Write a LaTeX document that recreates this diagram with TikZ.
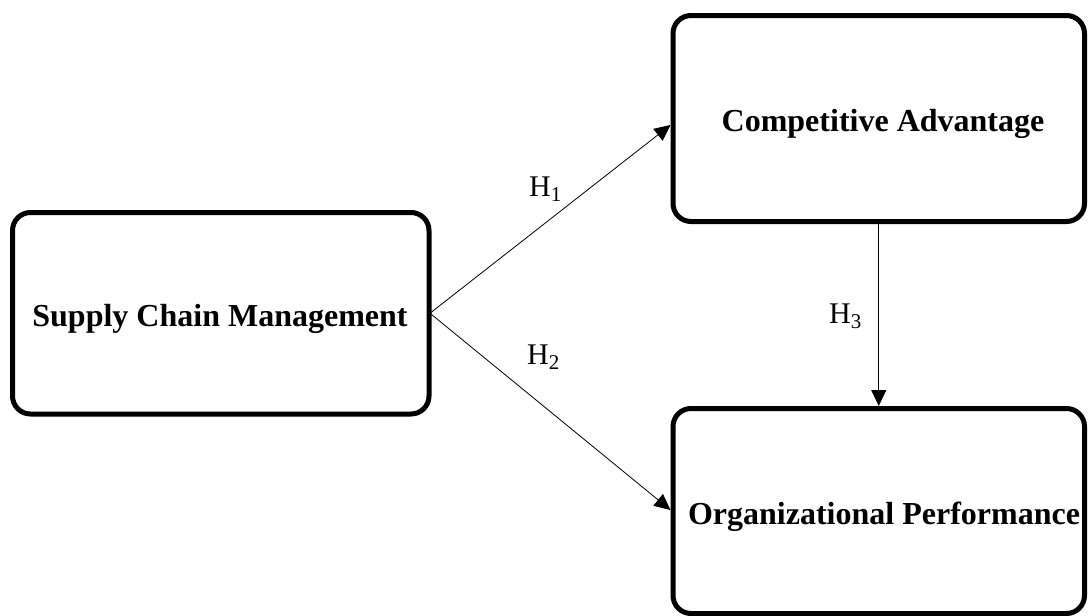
\documentclass[tikz,border=0pt]{standalone}
\usepackage{fontspec}
\setmainfont{Liberation Serif}
\usetikzlibrary{arrows.meta}

\tikzset{
  varbox/.style={draw=black, line width=5pt, rounded corners=18pt, fill=white},
  boxtext/.style={font=\fontsize{32}{38}\selectfont\bfseries, inner sep=0pt, anchor=base},
  hyp/.style={font=\fontsize{30}{36}\selectfont, inner sep=0pt, anchor=base west},
  link/.style={draw=black, line width=0.8pt, -{Triangle[length=16pt, width=15pt]}}
}

\begin{document}
\begin{tikzpicture}[x=1pt, y=-1pt]
  \useasboundingbox (0,0) rectangle (1088,616);

  % the three constructs
  \node[varbox, minimum width=416.5pt, minimum height=201.5pt] (scm) at (220.75,313.25) {};
  \node[varbox, minimum width=411.5pt, minimum height=206pt] (ca) at (878.75,118.5) {};
  \node[varbox, minimum width=411.5pt, minimum height=205pt] (op) at (878.75,511) {};

  \node[boxtext] (scmt) at (220,326.7) {Supply Chain Management};
  \node[boxtext] (cat) at (883,131.5) {Competitive Advantage};
  \node[boxtext] (opt) at (884,524.5) {Organizational Performance};

  % hypothesised paths
  \draw[link] ([xshift=-1.5pt]scm.east) -- ([yshift=-6.5pt]ca.west);
  \draw[link] ([xshift=-1.5pt]scm.east) -- ([yshift=1pt]op.west);
  \draw[link] (ca.south) -- (op.north);

  \node[hyp] (h1) at (529,196.7) {H\textsubscript{1}};
  \node[hyp] (h2) at (527,364) {H\textsubscript{2}};
  \node[hyp] (h3) at (829,323) {H\textsubscript{3}};
\end{tikzpicture}
\end{document}
